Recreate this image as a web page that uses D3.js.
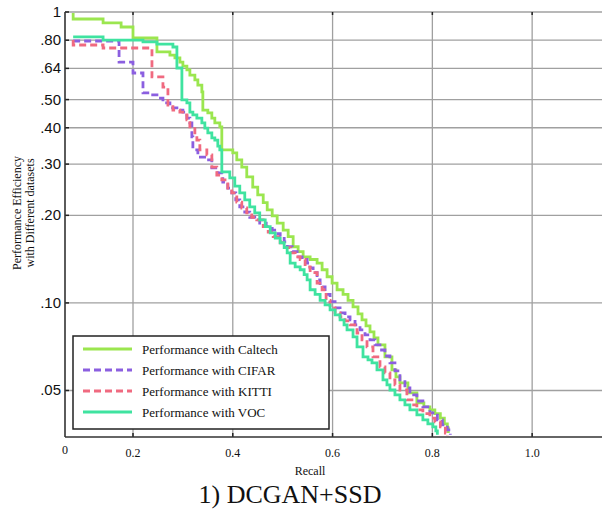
<!DOCTYPE html>
<meta charset="utf-8">
<script src="https://d3js.org/d3.v7.min.js"></script>
<style>
  body { margin: 0; background: #fff; }
  text { fill: #111; }
</style>
<div id="my_dataviz"></div>
<script>

// tick labels
var xTicks = [0.2, 0.4, 0.6, 0.8, 1.0];
var xTickLabels = ["0.2", "0.4", "0.6", "0.8", "1.0"];
var yTicks = [1, 0.8, 0.64, 0.5, 0.4, 0.3, 0.2, 0.1, 0.05];
var yTickLabels = ["1", ".80", ".64", ".50", ".40", ".30", ".20", ".10", ".05"];

var seriesNames = ["Performance with Caltech", "Performance with CIFAR", "Performance with KITTI", "Performance with VOC"];

// Caltech
var caltechRecall = [0.024,0.024,0.112,0.165,0.200,0.248,0.274,0.284,0.294,0.300,0.308,0.314,0.324,0.330,0.338,0.340,0.350,0.358,0.364,0.374,0.378,0.400,0.408,0.418,0.428,0.440,0.450,0.461,0.469,0.479,0.489,0.501,0.511,0.521,0.531,0.541,0.555,0.569,0.579,0.589,0.599,0.609,0.621,0.631,0.641,0.651,0.659,0.667,0.675,0.683,0.691,0.705,0.719,0.727,0.735,0.751,0.769,0.783,0.795,0.805,0.816,0.824,0.830,0.832];
var caltechPrec = [0.992,0.946,0.917,0.888,0.814,0.729,0.711,0.695,0.673,0.652,0.632,0.607,0.584,0.561,0.531,0.460,0.450,0.432,0.416,0.403,0.336,0.328,0.310,0.293,0.271,0.250,0.235,0.221,0.209,0.199,0.188,0.178,0.169,0.156,0.150,0.144,0.141,0.137,0.130,0.123,0.117,0.111,0.107,0.102,0.0969,0.0917,0.0874,0.0834,0.0795,0.0758,0.0717,0.0652,0.0589,0.0557,0.0531,0.0491,0.0453,0.0439,0.0429,0.0416,0.0402,0.0384,0.0372,0.0357];

// CIFAR
var cifarRecall = [0.024,0.159,0.200,0.220,0.234,0.248,0.260,0.274,0.288,0.300,0.308,0.314,0.318,0.320,0.330,0.348,0.358,0.370,0.380,0.390,0.398,0.406,0.414,0.424,0.434,0.444,0.454,0.467,0.479,0.487,0.495,0.503,0.509,0.519,0.529,0.539,0.549,0.555,0.561,0.569,0.575,0.585,0.595,0.605,0.615,0.625,0.635,0.645,0.655,0.665,0.675,0.685,0.695,0.705,0.715,0.725,0.735,0.745,0.755,0.769,0.781,0.795,0.810,0.820,0.830,0.836];
var cifarPrec = [0.795,0.673,0.617,0.527,0.519,0.506,0.487,0.468,0.460,0.453,0.432,0.416,0.372,0.336,0.317,0.310,0.291,0.280,0.260,0.248,0.239,0.226,0.214,0.205,0.197,0.193,0.188,0.183,0.178,0.173,0.169,0.162,0.156,0.150,0.144,0.141,0.137,0.132,0.127,0.120,0.1135,0.107,0.101,0.0961,0.0924,0.0895,0.0874,0.0840,0.0808,0.0776,0.0746,0.0717,0.0689,0.0657,0.0622,0.0584,0.0544,0.0510,0.0483,0.0460,0.0439,0.0419,0.0396,0.0381,0.0366,0.0352];

// KITTI
var kittiRecall = [0.024,0.024,0.112,0.238,0.260,0.270,0.280,0.294,0.304,0.308,0.314,0.324,0.328,0.334,0.348,0.358,0.368,0.378,0.390,0.398,0.408,0.418,0.428,0.438,0.448,0.461,0.471,0.481,0.495,0.505,0.515,0.525,0.535,0.545,0.555,0.569,0.579,0.587,0.595,0.605,0.615,0.625,0.635,0.649,0.659,0.669,0.681,0.695,0.705,0.715,0.725,0.735,0.749,0.759,0.769,0.781,0.795,0.805,0.816,0.826,0.830];
var kittiPrec = [0.801,0.770,0.752,0.598,0.552,0.479,0.460,0.453,0.443,0.426,0.403,0.378,0.363,0.336,0.323,0.293,0.275,0.265,0.248,0.239,0.222,0.212,0.204,0.197,0.193,0.183,0.175,0.169,0.161,0.155,0.1485,0.144,0.141,0.133,0.127,0.117,0.111,0.102,0.0961,0.0924,0.0895,0.0867,0.0840,0.0788,0.0746,0.0706,0.0652,0.0603,0.0575,0.0544,0.0523,0.0502,0.0464,0.0446,0.0429,0.0416,0.0402,0.0390,0.0375,0.0357,0.0349];

// VOC
var vocRecall = [0.024,0.112,0.220,0.248,0.280,0.288,0.298,0.308,0.314,0.320,0.328,0.338,0.344,0.350,0.358,0.364,0.370,0.374,0.378,0.394,0.404,0.414,0.424,0.434,0.444,0.454,0.465,0.475,0.485,0.495,0.503,0.509,0.515,0.525,0.535,0.543,0.549,0.555,0.565,0.575,0.585,0.595,0.605,0.615,0.623,0.629,0.641,0.649,0.661,0.671,0.679,0.689,0.701,0.709,0.715,0.725,0.735,0.745,0.755,0.769,0.781,0.791,0.801,0.807,0.810];
var vocPrec = [0.821,0.801,0.789,0.776,0.758,0.642,0.499,0.487,0.453,0.443,0.432,0.416,0.399,0.384,0.369,0.363,0.346,0.336,0.282,0.269,0.252,0.239,0.226,0.214,0.204,0.193,0.183,0.174,0.167,0.161,0.155,0.1485,0.137,0.133,0.130,0.125,0.120,0.111,0.107,0.102,0.0985,0.0946,0.0910,0.0874,0.0840,0.0808,0.0764,0.0706,0.0652,0.0637,0.0622,0.0589,0.0544,0.0523,0.0502,0.0483,0.0464,0.0446,0.0429,0.0412,0.0396,0.0384,0.0375,0.0363,0.0352];

var colors = ["#9be64f", "#8b5fe0", "#f06a80", "#3fe3a0"];
var dashes = [null, "7,4", "7,4", null];

function zip(r, p) { return r.map(function (d, i) { return { r: d, p: p[i] }; }); }
var series = [
    zip(caltechRecall, caltechPrec),
    zip(cifarRecall, cifarPrec),
    zip(kittiRecall, kittiPrec),
    zip(vocRecall, vocPrec)
];

var width = 602, height = 510;
var plotLeft = 65, plotTop = 12, plotRight = 602, plotBottom = 437;

var svg = d3.select("#my_dataviz")
    .append("svg")
    .attr("width", width)
    .attr("height", height)
    .style("font-family", "'Liberation Serif', 'Times New Roman', serif");

// x axis: the "0" sits at the frame edge, the rest is evenly spaced
var x = d3.scaleLinear()
    .domain([0, 0.2, 1.14])
    .range([plotLeft, 133, plotRight]);

var y = d3.scaleLog()
    .domain([0.0346, 1])
    .range([plotBottom, plotTop]);

// grid
var grid = svg.append("g").attr("stroke", "#a0a0a0").attr("stroke-width", 1.3);
grid.selectAll(".hg").data(yTicks).enter().append("line")
    .attr("x1", plotLeft).attr("x2", plotRight)
    .attr("y1", function (d) { return y(d); })
    .attr("y2", function (d) { return y(d); });
grid.selectAll(".vg").data(xTicks).enter().append("line")
    .attr("y1", plotTop).attr("y2", plotBottom)
    .attr("x1", function (d) { return x(d); })
    .attr("x2", function (d) { return x(d); });

// small tick marks
var ticks = svg.append("g").attr("stroke", "#222").attr("stroke-width", 1.5);
ticks.selectAll(".yt").data(yTicks).enter().append("line")
    .attr("x1", plotLeft).attr("x2", plotLeft + 4)
    .attr("y1", function (d) { return y(d); })
    .attr("y2", function (d) { return y(d); });
ticks.selectAll(".xt").data(xTicks).enter().append("line")
    .attr("y1", plotBottom).attr("y2", plotBottom - 4)
    .attr("x1", function (d) { return x(d); })
    .attr("x2", function (d) { return x(d); });
ticks.selectAll(".xtt").data(xTicks).enter().append("line")
    .attr("y1", plotTop).attr("y2", plotTop + 3)
    .attr("x1", function (d) { return x(d); })
    .attr("x2", function (d) { return x(d); });

// curves
var line = d3.line()
    .curve(d3.curveStepAfter)
    .x(function (d) { return x(d.r); })
    .y(function (d) { return y(d.p); });

svg.append("g").selectAll("path")
    .data(series)
    .enter()
    .append("path")
    .attr("d", line)
    .attr("fill", "none")
    .attr("stroke", function (d, i) { return colors[i]; })
    .attr("stroke-width", 2.8)
    .attr("stroke-dasharray", function (d, i) { return dashes[i]; });

// frame
svg.append("line").attr("x1", plotLeft).attr("x2", plotLeft).attr("y1", plotTop).attr("y2", plotBottom)
    .attr("stroke", "#333").attr("stroke-width", 1.6);
svg.append("line").attr("x1", plotLeft).attr("x2", plotRight).attr("y1", plotBottom).attr("y2", plotBottom)
    .attr("stroke", "#333").attr("stroke-width", 1.6);

// y tick labels
svg.append("g").selectAll("text")
    .data(yTicks)
    .enter()
    .append("text")
    .attr("x", 61)
    .attr("y", function (d) { return y(d) + 5; })
    .attr("text-anchor", "end")
    .style("font-family", "'Liberation Sans', Arial, sans-serif")
    .style("font-size", "15px")
    .text(function (d, i) { return yTickLabels[i]; });

// x tick labels
svg.append("text").attr("x", x(0)).attr("y", 454).attr("text-anchor", "middle")
    .style("font-size", "12px").text("0");
svg.append("g").selectAll("text")
    .data(xTicks)
    .enter()
    .append("text")
    .attr("x", function (d) { return x(d); })
    .attr("y", 457)
    .attr("text-anchor", "middle")
    .style("font-size", "12px")
    .text(function (d, i) { return xTickLabels[i]; });

// axis titles
svg.append("text").attr("x", 310).attr("y", 475).attr("text-anchor", "middle")
    .style("font-size", "12px").text("Recall");
svg.append("text")
    .attr("transform", "translate(21,213) rotate(-90)")
    .attr("text-anchor", "middle")
    .style("font-size", "12px")
    .text("Performance Efficiency");
svg.append("text")
    .attr("transform", "translate(34,213) rotate(-90)")
    .attr("text-anchor", "middle")
    .style("font-size", "12px")
    .text("with Different datasets");

svg.append("text").attr("x", 290).attr("y", 503).attr("text-anchor", "middle")
    .style("font-size", "26px").text("1) DCGAN+SSD");

// legend
var legend = svg.append("g").attr("transform", "translate(73,336)");
legend.append("rect")
    .attr("width", 256).attr("height", 93)
    .attr("fill", "#fff").attr("stroke", "#222").attr("stroke-width", 1.5);
var items = legend.selectAll(".item")
    .data(seriesNames)
    .enter()
    .append("g")
    .attr("transform", function (d, i) { return "translate(0," + (13 + i * 21) + ")"; });
items.append("line")
    .attr("x1", 10).attr("x2", 59)
    .attr("stroke", function (d, i) { return colors[i]; })
    .attr("stroke-width", 2.8)
    .attr("stroke-dasharray", function (d, i) { return dashes[i]; });
items.append("text")
    .attr("x", 69).attr("y", 5)
    .style("font-size", "13px")
    .text(function (d) { return d; });

</script>
